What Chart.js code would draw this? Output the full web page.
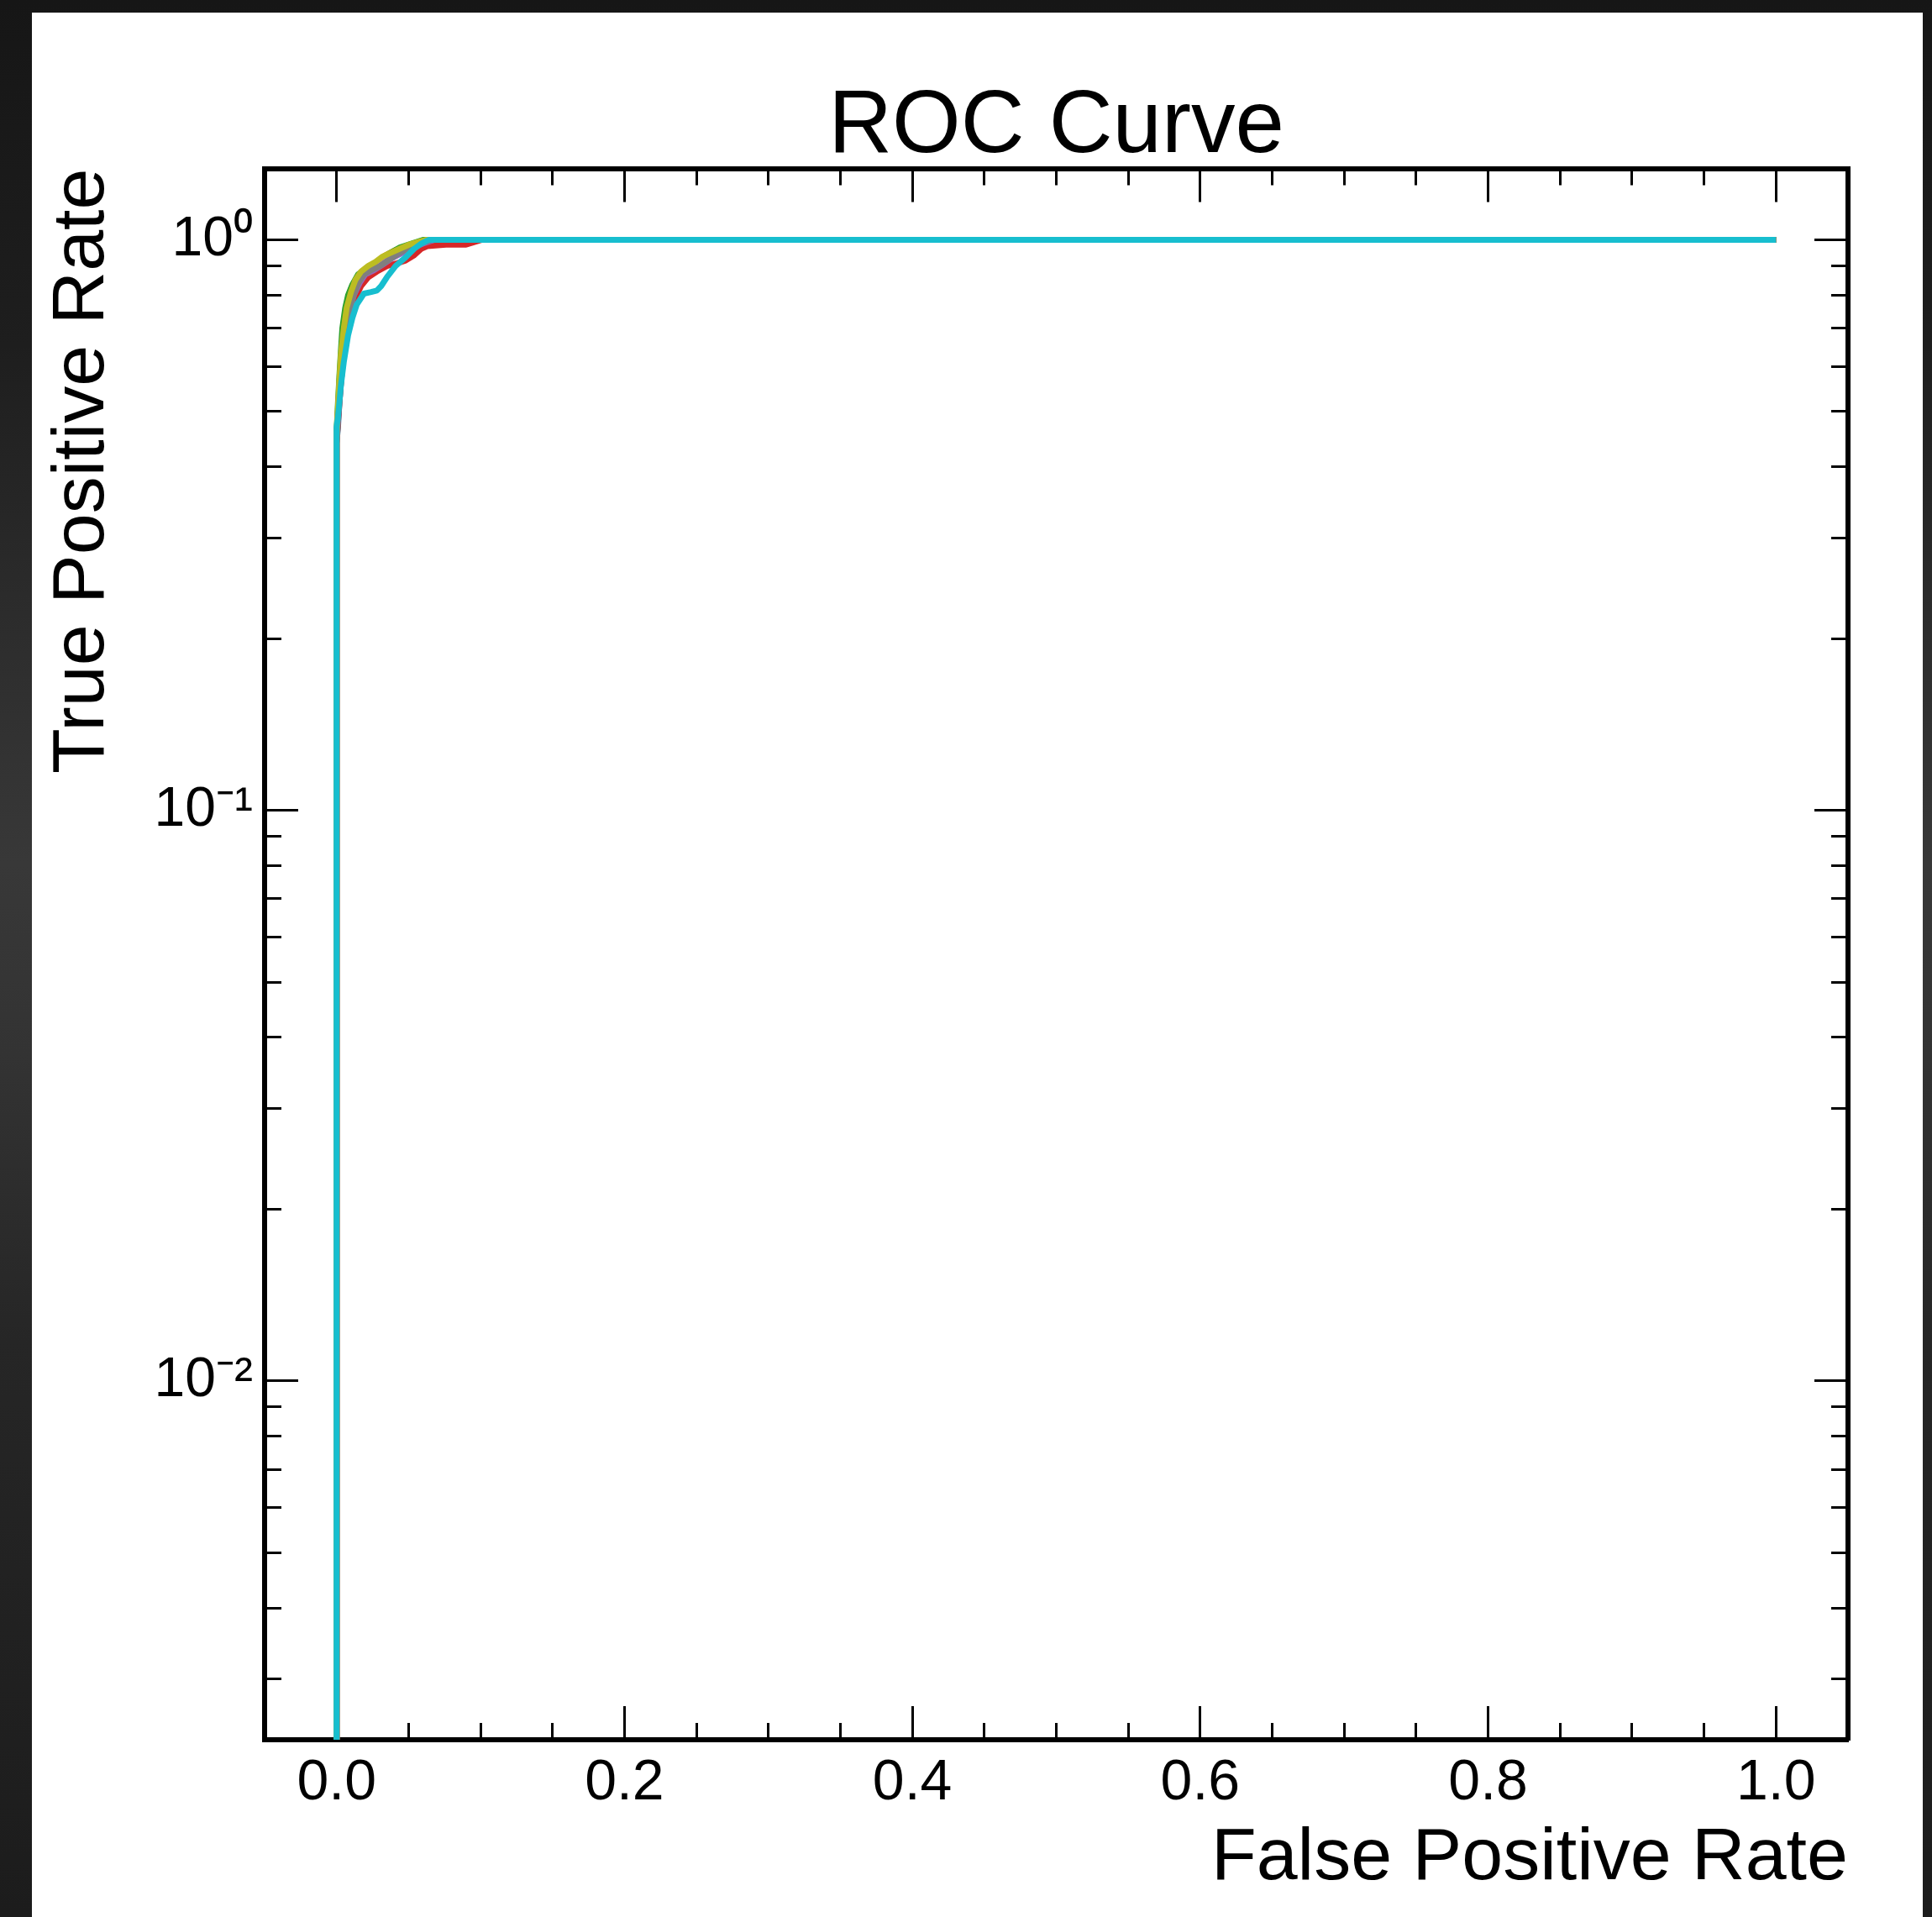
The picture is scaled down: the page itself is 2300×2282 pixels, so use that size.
<!DOCTYPE html>
<html>
<head>
<meta charset="utf-8">
<script src="https://cdn.jsdelivr.net/npm/chart.js@4.4.1/dist/chart.umd.min.js"></script>
<style>
html,body{margin:0;padding:0;width:2300px;height:2282px;overflow:hidden;background:#1c1c1c;}
#bg{position:absolute;left:0;top:0;width:2300px;height:2282px;
  background:linear-gradient(180deg,#161616 0%,#1e1e1e 18%,#2c2c2c 32%,#383838 45%,#333333 55%,#262626 70%,#1c1c1c 100%);}
#card{position:absolute;left:38px;top:15px;width:2251px;height:2267px;background:#ffffff;}
#c{position:absolute;left:0;top:0;}
</style>
</head>
<body>
<div id="bg"></div>
<div id="card"></div>
<canvas id="c" width="2300" height="2282"></canvas>
<script>
// ---- Texts ----
const chartTitle = 'ROC Curve';
const xAxisTitle = 'False Positive Rate';
const yAxisTitle = 'True Positive Rate';

// ---- Series (one ROC curve per fold) ----
const foldLabels = ['Fold 1','Fold 2','Fold 3','Fold 4','Fold 5','Fold 6','Fold 7','Fold 8','Fold 9','Fold 10'];
const foldColors = ['#1f77b4','#ff7f0e','#2ca02c','#d62728','#9467bd','#8c564b','#e377c2','#7f7f7f','#bcbd22','#17becf'];

const fold01Fpr = [0, 0, 0.001, 0.002, 0.004, 0.006, 0.009, 0.012, 0.016, 0.021, 0.027, 0.033, 0.040, 0.047, 0.055, 0.062, 0.070, 0.076, 1.0];
const fold01Tpr = [0, 0.44, 0.47, 0.52, 0.60, 0.67, 0.74, 0.79, 0.83, 0.86, 0.885, 0.91, 0.935, 0.955, 0.97, 0.978, 0.982, 1.0, 1.0];

const fold02Fpr = [0, 0, 0.001, 0.002, 0.003, 0.005, 0.007, 0.010, 0.013, 0.017, 0.022, 0.028, 0.034, 0.041, 0.049, 0.057, 0.066, 1.0];
const fold02Tpr = [0, 0.45, 0.50, 0.56, 0.62, 0.69, 0.75, 0.80, 0.84, 0.87, 0.89, 0.915, 0.94, 0.96, 0.975, 0.99, 1.0, 1.0];

const fold03Fpr = [0, 0, 0.001, 0.002, 0.003, 0.004, 0.006, 0.008, 0.011, 0.015, 0.019, 0.024, 0.030, 0.036, 0.044, 0.052, 0.060, 1.0];
const fold03Tpr = [0, 0.46, 0.52, 0.58, 0.64, 0.70, 0.76, 0.80, 0.835, 0.87, 0.885, 0.895, 0.92, 0.945, 0.97, 0.985, 1.0, 1.0];

const fold04Fpr = [0, 0, 0.001, 0.003, 0.005, 0.007, 0.010, 0.013, 0.017, 0.022, 0.028, 0.035, 0.042, 0.048, 0.054, 0.059, 0.063, 0.076, 0.090, 0.101, 1.0];
const fold04Tpr = [0, 0.44, 0.48, 0.56, 0.63, 0.69, 0.75, 0.79, 0.83, 0.86, 0.88, 0.90, 0.91, 0.92, 0.94, 0.965, 0.975, 0.981, 0.981, 1.0, 1.0];

const fold05Fpr = [0, 0, 0.001, 0.002, 0.004, 0.006, 0.009, 0.012, 0.016, 0.020, 0.026, 0.032, 0.039, 0.046, 0.053, 0.060, 0.068, 1.0];
const fold05Tpr = [0, 0.45, 0.49, 0.54, 0.62, 0.69, 0.75, 0.80, 0.84, 0.87, 0.885, 0.905, 0.93, 0.95, 0.97, 0.985, 1.0, 1.0];

const fold06Fpr = [0, 0, 0.001, 0.002, 0.004, 0.006, 0.008, 0.011, 0.015, 0.019, 0.025, 0.031, 0.038, 0.045, 0.052, 0.059, 0.066, 1.0];
const fold06Tpr = [0, 0.45, 0.50, 0.55, 0.63, 0.70, 0.75, 0.80, 0.845, 0.875, 0.89, 0.91, 0.935, 0.955, 0.975, 0.99, 1.0, 1.0];

const fold07Fpr = [0, 0, 0.001, 0.002, 0.004, 0.006, 0.008, 0.011, 0.014, 0.018, 0.023, 0.029, 0.035, 0.042, 0.050, 0.058, 0.065, 1.0];
const fold07Tpr = [0, 0.45, 0.50, 0.56, 0.64, 0.70, 0.76, 0.80, 0.84, 0.88, 0.89, 0.905, 0.93, 0.955, 0.975, 0.99, 1.0, 1.0];

const fold08Fpr = [0, 0, 0.001, 0.002, 0.004, 0.006, 0.009, 0.012, 0.015, 0.019, 0.024, 0.030, 0.037, 0.044, 0.051, 0.058, 0.066, 1.0];
const fold08Tpr = [0, 0.44, 0.49, 0.55, 0.63, 0.69, 0.76, 0.80, 0.84, 0.87, 0.885, 0.90, 0.925, 0.95, 0.97, 0.985, 1.0, 1.0];

const fold09Fpr = [0, 0, 0.001, 0.002, 0.003, 0.005, 0.007, 0.010, 0.013, 0.017, 0.022, 0.027, 0.032, 0.038, 0.044, 0.050, 0.056, 0.062, 1.0];
const fold09Tpr = [0, 0.46, 0.51, 0.57, 0.63, 0.70, 0.76, 0.81, 0.85, 0.88, 0.90, 0.915, 0.935, 0.95, 0.965, 0.98, 0.99, 1.0, 1.0];

const fold10Fpr = [0, 0, 0.001, 0.002, 0.003, 0.005, 0.008, 0.011, 0.014, 0.019, 0.024, 0.028, 0.031, 0.035, 0.041, 0.048, 0.054, 0.059, 0.064, 1.0];
const fold10Tpr = [0, 0.47, 0.49, 0.52, 0.555, 0.61, 0.68, 0.73, 0.77, 0.805, 0.81, 0.815, 0.83, 0.86, 0.90, 0.932, 0.965, 0.985, 1.0, 1.0];

// ---- Axes: ranges and ticks ----
const xRange = [-0.05, 1.05];
const yRange = [0.00235, 1.334];
const xMajorTicks = [0.0, 0.2, 0.4, 0.6, 0.8, 1.0];
const xTickLabels = ['0.0', '0.2', '0.4', '0.6', '0.8', '1.0'];
const xMinorTicks = [0.05, 0.10, 0.15, 0.25, 0.30, 0.35, 0.45, 0.50, 0.55, 0.65, 0.70, 0.75, 0.85, 0.90, 0.95];
const yMajorTicks = [0.01, 0.1, 1];
const yTickLabels = ['10\u207B\u00B2', '10\u207B\u00B9', '10\u2070'];
const yMinorTicks = [0.003, 0.004, 0.005, 0.006, 0.007, 0.008, 0.009,
                     0.02, 0.03, 0.04, 0.05, 0.06, 0.07, 0.08, 0.09,
                     0.2, 0.3, 0.4, 0.5, 0.6, 0.7, 0.8, 0.9];

const foldFpr = [fold01Fpr, fold02Fpr, fold03Fpr, fold04Fpr, fold05Fpr, fold06Fpr, fold07Fpr, fold08Fpr, fold09Fpr, fold10Fpr];
const foldTpr = [fold01Tpr, fold02Tpr, fold03Tpr, fold04Tpr, fold05Tpr, fold06Tpr, fold07Tpr, fold08Tpr, fold09Tpr, fold10Tpr];

const FAMILY = "'Liberation Sans', Arial, Helvetica, sans-serif";

// parsing:false so that TPR = 0 is kept (log axis maps it to the bottom edge, like matplotlib's clipping)
const datasets = foldLabels.map((label, k) => ({
  label: label,
  data: foldFpr[k].map((f, i) => ({x: f, y: foldTpr[k][i]})),
  parsing: false,
  order: foldLabels.length - k,
  borderColor: foldColors[k],
  backgroundColor: foldColors[k],
  borderWidth: 7,
  pointRadius: 0,
  pointHoverRadius: 0,
  fill: false,
  tension: 0,
  borderJoinStyle: 'round',
  borderCapStyle: 'butt',
  xAxisID: 'x',
  yAxisID: 'y'
}));

function setTicks(list) {
  return s => { s.ticks = list.map(v => ({value: v})); };
}

function tickAxis(position, type, range, list, len, weight, withBorder) {
  const horiz = position === 'top' || position === 'bottom';
  return {
    type: type,
    position: position,
    weight: weight,
    min: range[0],
    max: range[1],
    bounds: 'data',
    afterBuildTicks: setTicks(list),
    afterFit: s => { if (horiz) { s.height = 0; } else { s.width = 0; } },
    ticks: {display: false, autoSkip: false},
    grid: {display: true, drawOnChartArea: false, drawTicks: true, tickLength: len, tickWidth: 3, tickColor: '#000'},
    border: {display: withBorder, width: 6, color: '#000'},
    title: {display: false}
  };
}

new Chart(document.getElementById('c'), {
  type: 'line',
  data: {datasets: datasets},
  options: {
    responsive: false,
    animation: false,
    devicePixelRatio: 1,
    layout: {padding: {top: 105, right: 100, bottom: 0, left: 0}},
    plugins: {
      legend: {display: false},
      tooltip: {enabled: false},
      title: {
        display: true,
        text: chartTitle,
        fullSize: false,
        color: '#000',
        font: {family: FAMILY, size: 105, weight: 'normal', lineHeight: 0.9},
        padding: {top: 0, bottom: 1}
      }
    },
    scales: {
      x: {
        type: 'linear',
        position: 'bottom',
        weight: 0,
        min: xRange[0],
        max: xRange[1],
        bounds: 'data',
        afterBuildTicks: setTicks(xMajorTicks),
        afterFit: s => { s.height = 211; },
        ticks: {
          autoSkip: false, maxRotation: 0, minRotation: 0, padding: 51, color: '#000',
          font: {family: FAMILY, size: 68, weight: 'normal'},
          callback: (v, i) => xTickLabels[i]
        },
        grid: {display: true, drawOnChartArea: false, drawTicks: true, tickLength: -40, tickWidth: 3, tickColor: '#000'},
        border: {display: true, width: 6, color: '#000'},
        title: {
          display: true, text: xAxisTitle, align: 'end', color: '#000',
          font: {family: FAMILY, size: 88, weight: 'normal', lineHeight: 1},
          padding: {top: 0, bottom: 25}
        }
      },
      xMinorBottom: tickAxis('bottom', 'linear', xRange, xMinorTicks, -20, -1, false),
      xTop: tickAxis('top', 'linear', xRange, xMajorTicks, -40, 0, true),
      xMinorTop: tickAxis('top', 'linear', xRange, xMinorTicks, -20, -1, false),
      y: {
        type: 'logarithmic',
        position: 'left',
        weight: 0,
        min: yRange[0],
        max: yRange[1],
        bounds: 'data',
        afterBuildTicks: setTicks(yMajorTicks),
        afterFit: s => { s.width = 315; },
        ticks: {
          autoSkip: false, padding: 54, color: '#000',
          font: {family: FAMILY, size: 66, weight: 'normal'},
          callback: (v, i) => yTickLabels[i]
        },
        grid: {display: true, drawOnChartArea: false, drawTicks: true, tickLength: -40, tickWidth: 3, tickColor: '#000'},
        border: {display: true, width: 6, color: '#000'},
        title: {
          display: true, text: yAxisTitle, align: 'end', color: '#000',
          font: {family: FAMILY, size: 88, weight: 'normal', lineHeight: 1},
          padding: {top: 55, bottom: 0}
        }
      },
      yMinorLeft: tickAxis('left', 'logarithmic', yRange, yMinorTicks, -20, -1, false),
      yRight: tickAxis('right', 'logarithmic', yRange, yMajorTicks, -40, 0, true),
      yMinorRight: tickAxis('right', 'logarithmic', yRange, yMinorTicks, -20, -1, false)
    }
  }
});
</script>
</body>
</html>
